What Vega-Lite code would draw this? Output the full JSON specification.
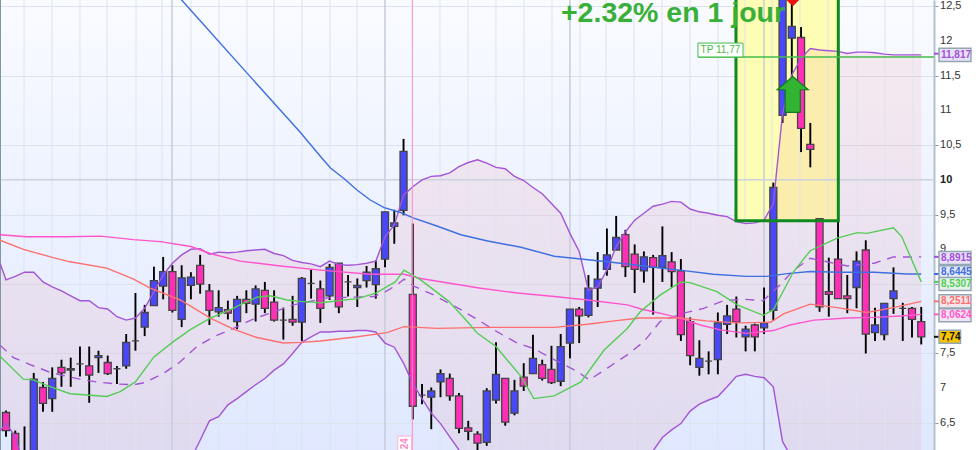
{
"$schema":"https://vega.github.io/schema/vega-lite/v6.json",
"width":934,"height":450,
"autosize":{"type":"none"},
"padding":{"left":0,"top":0,"right":46,"bottom":0},
"background":"#ffffff",
"view":{"stroke":null,"fill":{"gradient":"linear","x1":0,"y1":0,"x2":0,"y2":1,"stops":[{"offset":0,"color":"#f9fbff"},{"offset":1,"color":"#dfe8ff"}]}},
"config":{"font":"Liberation Sans"},
"datasets":{
"rectZone":[{"a":78.96,"b":90.03,"lo":9.41,"hi":13.2}],
"ticks":[{"x":101.03,"v":6.5,"t":"6,5"},{"x":101.03,"v":7,"t":"7"},{"x":101.03,"v":7.5,"t":"7,5"},{"x":101.03,"v":8,"t":"8"},{"x":101.03,"v":8.5,"t":"8,5"},{"x":101.03,"v":9,"t":"9"},{"x":101.03,"v":9.5,"t":"9,5"},{"x":101.03,"v":10.5,"t":"10,5"},{"x":101.03,"v":11,"t":"11"},{"x":101.03,"v":11.5,"t":"11,5"},{"x":101.03,"v":12,"t":"12"},{"x":101.03,"v":12.5,"t":"12,5"}],
"band":[{"i":-0.65,"up":8.80,"lo":6.38},{"i":0,"up":8.56,"lo":6.50},{"i":1,"up":8.61,"lo":6.30},{"i":2,"up":8.67,"lo":5.85},{"i":3,"up":8.67,"lo":5.8},{"i":4,"up":8.53,"lo":5.8},{"i":5,"up":8.46,"lo":5.8},{"i":6,"up":8.40,"lo":5.8},{"i":7,"up":8.33,"lo":5.8},{"i":8,"up":8.26,"lo":5.8},{"i":9,"up":8.26,"lo":5.8},{"i":10,"up":8.16,"lo":5.8},{"i":11,"up":8.14,"lo":5.8},{"i":12,"up":8.03,"lo":5.8},{"i":13,"up":7.98,"lo":5.8},{"i":14,"up":8.01,"lo":5.8},{"i":15,"up":8.15,"lo":5.8},{"i":16,"up":8.39,"lo":5.8},{"i":17,"up":8.63,"lo":5.8},{"i":18,"up":8.80,"lo":5.8},{"i":19,"up":8.92,"lo":5.8},{"i":20,"up":9.00,"lo":5.98},{"i":21,"up":9.01,"lo":6.25},{"i":22,"up":8.93,"lo":6.53},{"i":23,"up":8.96,"lo":6.59},{"i":24,"up":8.95,"lo":6.76},{"i":25,"up":8.96,"lo":6.85},{"i":26,"up":8.98,"lo":6.95},{"i":27,"up":8.99,"lo":7.05},{"i":28,"up":9.00,"lo":7.14},{"i":29,"up":8.94,"lo":7.26},{"i":30,"up":8.91,"lo":7.35},{"i":31,"up":8.84,"lo":7.50},{"i":32,"up":8.81,"lo":7.66},{"i":33,"up":8.79,"lo":7.74},{"i":34,"up":8.75,"lo":7.81},{"i":35,"up":8.83,"lo":7.81},{"i":36,"up":8.78,"lo":7.82},{"i":37,"up":8.77,"lo":7.82},{"i":38,"up":8.78,"lo":7.83},{"i":39,"up":8.80,"lo":7.83},{"i":40,"up":8.83,"lo":7.81},{"i":41,"up":9.18,"lo":7.65},{"i":42,"up":9.35,"lo":7.59},{"i":43,"up":9.78,"lo":7.36},{"i":44,"up":9.90,"lo":7.07},{"i":45,"up":10.0,"lo":6.85},{"i":46,"up":10.05,"lo":6.64},{"i":47,"up":10.06,"lo":6.49},{"i":48,"up":10.10,"lo":6.30},{"i":49,"up":10.19,"lo":6.11},{"i":50,"up":10.25,"lo":5.9},{"i":51,"up":10.29,"lo":5.8},{"i":52,"up":10.24,"lo":5.8},{"i":53,"up":10.18,"lo":5.8},{"i":54,"up":10.16,"lo":5.8},{"i":55,"up":10.05,"lo":5.8},{"i":56,"up":9.99,"lo":5.8},{"i":57,"up":9.89,"lo":5.8},{"i":58,"up":9.80,"lo":5.8},{"i":59,"up":9.66,"lo":5.8},{"i":60,"up":9.52,"lo":5.8},{"i":61,"up":9.23,"lo":5.8},{"i":62,"up":8.97,"lo":5.8},{"i":63,"up":8.41,"lo":5.8},{"i":64,"up":8.46,"lo":5.8},{"i":65,"up":8.70,"lo":5.8},{"i":66,"up":9.04,"lo":5.8},{"i":67,"up":9.25,"lo":5.8},{"i":68,"up":9.42,"lo":5.8},{"i":69,"up":9.52,"lo":5.9},{"i":70,"up":9.62,"lo":6.1},{"i":71,"up":9.65,"lo":6.29},{"i":72,"up":9.69,"lo":6.40},{"i":73,"up":9.68,"lo":6.49},{"i":74,"up":9.58,"lo":6.67},{"i":75,"up":9.54,"lo":6.77},{"i":76,"up":9.52,"lo":6.83},{"i":77,"up":9.49,"lo":6.88},{"i":78,"up":9.47,"lo":7.02},{"i":79,"up":9.40,"lo":7.17},{"i":80,"up":9.37,"lo":7.20},{"i":81,"up":9.38,"lo":7.17},{"i":82,"up":9.42,"lo":7.15},{"i":83,"up":9.66,"lo":7.02},{"i":84,"up":10.96,"lo":6.23},{"i":85,"up":11.51,"lo":6.0},{"i":86,"up":11.75,"lo":5.8},{"i":87,"up":11.89,"lo":5.8},{"i":88,"up":11.87,"lo":5.8},{"i":89,"up":11.86,"lo":5.8},{"i":90,"up":11.85,"lo":5.8},{"i":91,"up":11.82,"lo":5.8},{"i":92,"up":11.84,"lo":5.8},{"i":93,"up":11.84,"lo":5.8},{"i":94,"up":11.83,"lo":5.8},{"i":95,"up":11.81,"lo":5.8},{"i":96,"up":11.80,"lo":5.8},{"i":97,"up":11.80,"lo":5.8},{"i":98,"up":11.80,"lo":5.8},{"i":99,"up":11.80,"lo":5.8}],
"gridMinor":[{"i":1.95},{"i":4.97},{"i":8.0},{"i":10.92},{"i":14.06},{"i":16.87},{"i":20.01},{"i":23.04},{"i":26.07},{"i":28.99},{"i":32.02},{"i":35.05},{"i":37.97},{"i":46.94},{"i":49.97},{"i":53},{"i":56.03},{"i":59.06},{"i":62.09},{"i":64.9},{"i":67.93},{"i":70.96},{"i":73.99},{"i":77.02},{"i":79.93},{"i":82.86},{"i":85.88},{"i":88.91},{"i":92.05},{"i":95.08},{"i":98.11}],
"gridMajor":[{"i":17.95},{"i":40.99},{"i":61.0},{"i":81.99}],
"candles":[
{"i":0,"o":6.65,"h":6.68,"l":6.30,"c":6.39,"d":"down"},
{"i":1,"o":6.35,"h":6.39,"l":5.8,"c":5.9,"d":"down"},
{"i":2,"o":6.0,"h":6.45,"l":5.8,"c":5.9,"d":"down"},
{"i":3,"o":5.9,"h":7.22,"l":5.85,"c":7.13,"d":"up"},
{"i":4,"o":7.01,"h":7.09,"l":6.66,"c":6.78,"d":"down"},
{"i":5,"o":6.85,"h":7.30,"l":6.66,"c":7.14,"d":"up"},
{"i":6,"o":7.30,"h":7.41,"l":7.02,"c":7.22,"d":"down"},
{"i":7,"o":7.28,"h":7.44,"l":7.02,"c":7.26,"d":"down"},
{"i":8,"o":7.35,"h":7.60,"l":7.17,"c":7.35,"d":"doji"},
{"i":9,"o":7.32,"h":7.60,"l":6.79,"c":7.19,"d":"down"},
{"i":10,"o":7.44,"h":7.54,"l":7.22,"c":7.47,"d":"up"},
{"i":11,"o":7.37,"h":7.47,"l":7.19,"c":7.21,"d":"down"},
{"i":12,"o":7.28,"h":7.32,"l":7.06,"c":7.28,"d":"doji"},
{"i":13,"o":7.32,"h":7.78,"l":7.28,"c":7.66,"d":"up"},
{"i":14,"o":7.68,"h":8.37,"l":7.54,"c":7.68,"d":"doji"},
{"i":15,"o":7.88,"h":8.20,"l":7.75,"c":8.09,"d":"up"},
{"i":16,"o":8.19,"h":8.75,"l":8.19,"c":8.55,"d":"up"},
{"i":17,"o":8.47,"h":8.89,"l":8.28,"c":8.68,"d":"up"},
{"i":18,"o":8.68,"h":8.77,"l":8.09,"c":8.12,"d":"down"},
{"i":19,"o":7.99,"h":8.77,"l":7.88,"c":8.59,"d":"up"},
{"i":20,"o":8.48,"h":8.67,"l":8.28,"c":8.60,"d":"up"},
{"i":21,"o":8.77,"h":8.92,"l":8.36,"c":8.50,"d":"down"},
{"i":22,"o":8.40,"h":8.50,"l":7.91,"c":8.12,"d":"down"},
{"i":23,"o":8.10,"h":8.41,"l":8.03,"c":8.16,"d":"up"},
{"i":24,"o":8.13,"h":8.26,"l":7.99,"c":8.08,"d":"down"},
{"i":25,"o":7.96,"h":8.33,"l":7.85,"c":8.28,"d":"up"},
{"i":26,"o":8.28,"h":8.41,"l":8.08,"c":8.22,"d":"down"},
{"i":27,"o":8.21,"h":8.48,"l":7.96,"c":8.43,"d":"up"},
{"i":28,"o":8.41,"h":8.53,"l":8.08,"c":8.15,"d":"down"},
{"i":29,"o":8.24,"h":8.41,"l":7.96,"c":7.98,"d":"down"},
{"i":30,"o":7.98,"h":8.16,"l":7.70,"c":7.98,"d":"doji"},
{"i":31,"o":7.99,"h":8.33,"l":7.90,"c":7.95,"d":"down"},
{"i":32,"o":7.95,"h":8.60,"l":7.68,"c":8.58,"d":"up"},
{"i":33,"o":8.51,"h":8.71,"l":8.29,"c":8.51,"d":"doji"},
{"i":34,"o":8.43,"h":8.55,"l":7.94,"c":8.15,"d":"down"},
{"i":35,"o":8.33,"h":8.79,"l":8.27,"c":8.74,"d":"up"},
{"i":36,"o":8.80,"h":8.80,"l":8.08,"c":8.17,"d":"down"},
{"i":37,"o":8.53,"h":8.63,"l":8.32,"c":8.53,"d":"doji"},
{"i":38,"o":8.45,"h":8.58,"l":8.17,"c":8.48,"d":"up"},
{"i":39,"o":8.55,"h":8.76,"l":8.45,"c":8.67,"d":"up"},
{"i":40,"o":8.49,"h":8.84,"l":8.29,"c":8.72,"d":"up"},
{"i":41,"o":8.86,"h":9.54,"l":8.74,"c":9.54,"d":"up"},
{"i":42,"o":9.33,"h":9.57,"l":9.08,"c":9.38,"d":"up"},
{"i":43,"o":9.56,"h":10.59,"l":9.49,"c":10.41,"d":"up"},
{"i":44,"o":8.35,"h":9.37,"l":6.55,"c":6.74,"d":"down"},
{"i":45,"o":6.90,"h":7.06,"l":6.77,"c":6.90,"d":"doji"},
{"i":46,"o":6.87,"h":7.01,"l":6.41,"c":6.96,"d":"up"},
{"i":47,"o":7.09,"h":7.27,"l":6.87,"c":7.21,"d":"up"},
{"i":48,"o":7.14,"h":7.21,"l":6.82,"c":6.89,"d":"down"},
{"i":49,"o":6.89,"h":6.93,"l":6.35,"c":6.42,"d":"down"},
{"i":50,"o":6.43,"h":6.53,"l":6.25,"c":6.38,"d":"down"},
{"i":51,"o":6.34,"h":6.38,"l":6.11,"c":6.21,"d":"down"},
{"i":52,"o":6.22,"h":7.00,"l":6.17,"c":6.96,"d":"up"},
{"i":53,"o":6.83,"h":7.66,"l":6.78,"c":7.20,"d":"up"},
{"i":54,"o":7.14,"h":7.14,"l":6.46,"c":6.51,"d":"down"},
{"i":55,"o":6.64,"h":7.12,"l":6.61,"c":6.96,"d":"up"},
{"i":56,"o":7.16,"h":7.36,"l":6.96,"c":7.03,"d":"down"},
{"i":57,"o":7.21,"h":7.77,"l":7.21,"c":7.43,"d":"up"},
{"i":58,"o":7.34,"h":7.41,"l":7.11,"c":7.14,"d":"down"},
{"i":59,"o":7.27,"h":7.61,"l":7.06,"c":7.08,"d":"down"},
{"i":60,"o":7.10,"h":7.78,"l":7.03,"c":7.60,"d":"up"},
{"i":61,"o":7.65,"h":8.14,"l":7.43,"c":8.14,"d":"up"},
{"i":62,"o":8.14,"h":8.17,"l":7.65,"c":8.04,"d":"down"},
{"i":63,"o":8.05,"h":8.63,"l":8.02,"c":8.44,"d":"up"},
{"i":64,"o":8.44,"h":8.96,"l":8.17,"c":8.57,"d":"up"},
{"i":65,"o":8.71,"h":9.30,"l":8.62,"c":8.92,"d":"up"},
{"i":66,"o":8.99,"h":9.48,"l":8.99,"c":9.17,"d":"up"},
{"i":67,"o":9.21,"h":9.28,"l":8.60,"c":8.75,"d":"down"},
{"i":68,"o":8.93,"h":9.07,"l":8.37,"c":8.71,"d":"down"},
{"i":69,"o":8.69,"h":8.97,"l":8.52,"c":8.89,"d":"up"},
{"i":70,"o":8.88,"h":8.92,"l":8.06,"c":8.74,"d":"down"},
{"i":71,"o":8.74,"h":9.33,"l":8.53,"c":8.91,"d":"up"},
{"i":72,"o":8.82,"h":8.96,"l":8.45,"c":8.68,"d":"down"},
{"i":73,"o":8.69,"h":8.86,"l":7.68,"c":7.77,"d":"down"},
{"i":74,"o":7.96,"h":8.02,"l":7.33,"c":7.47,"d":"down"},
{"i":75,"o":7.30,"h":7.69,"l":7.18,"c":7.43,"d":"up"},
{"i":76,"o":7.39,"h":7.53,"l":7.20,"c":7.39,"d":"doji"},
{"i":77,"o":7.41,"h":8.09,"l":7.20,"c":7.94,"d":"up"},
{"i":78,"o":7.92,"h":8.20,"l":7.78,"c":8.04,"d":"up"},
{"i":79,"o":8.14,"h":8.32,"l":7.73,"c":7.95,"d":"down"},
{"i":80,"o":7.74,"h":7.90,"l":7.53,"c":7.85,"d":"up"},
{"i":81,"o":7.91,"h":7.93,"l":7.53,"c":7.74,"d":"down"},
{"i":82,"o":7.87,"h":8.45,"l":7.78,"c":7.94,"d":"up"},
{"i":83,"o":8.12,"h":9.96,"l":7.97,"c":9.89,"d":"up"},
{"i":84,"o":10.93,"h":12.8,"l":10.82,"c":12.7,"d":"up"},
{"i":85,"o":12.04,"h":12.7,"l":11.37,"c":12.21,"d":"up"},
{"i":86,"o":12.05,"h":12.20,"l":10.40,"c":10.74,"d":"down"},
{"i":87,"o":10.51,"h":10.82,"l":10.18,"c":10.44,"d":"down"},
{"i":88,"o":9.44,"h":9.44,"l":8.10,"c":8.17,"d":"down"},
{"i":89,"o":8.39,"h":8.88,"l":8.03,"c":8.35,"d":"down"},
{"i":90,"o":8.86,"h":9.41,"l":8.29,"c":8.29,"d":"down"},
{"i":91,"o":8.33,"h":8.63,"l":8.08,"c":8.29,"d":"down"},
{"i":92,"o":8.45,"h":8.97,"l":8.15,"c":8.83,"d":"up"},
{"i":93,"o":8.99,"h":9.13,"l":7.50,"c":7.78,"d":"down"},
{"i":94,"o":7.80,"h":8.16,"l":7.68,"c":7.91,"d":"up"},
{"i":95,"o":7.77,"h":8.22,"l":7.69,"c":8.22,"d":"up"},
{"i":96,"o":8.29,"h":8.74,"l":8.07,"c":8.40,"d":"up"},
{"i":97,"o":8.15,"h":8.23,"l":7.68,"c":8.15,"d":"doji"},
{"i":98,"o":8.15,"h":8.17,"l":7.73,"c":7.99,"d":"down"},
{"i":99,"o":7.96,"h":8.17,"l":7.63,"c":7.74,"d":"down"}
],
"mid":[{"i":-0.65,"v":7.62},{"i":0.8,"v":7.44},{"i":2.8,"v":7.33},{"i":4.95,"v":7.22},{"i":8,"v":7.13},{"i":9.8,"v":7.09},{"i":12,"v":7.06},{"i":13.8,"v":7.05},{"i":15,"v":7.08},{"i":17,"v":7.21},{"i":18.85,"v":7.38},{"i":20.65,"v":7.60},{"i":22.45,"v":7.74},{"i":24.6,"v":7.86},{"i":26.8,"v":8.0},{"i":29,"v":8.10},{"i":31.1,"v":8.20},{"i":34,"v":8.28},{"i":34.74,"v":8.30},{"i":39.8,"v":8.32},{"i":41.06,"v":8.39},{"i":42.3,"v":8.49},{"i":43.05,"v":8.57},{"i":44.1,"v":8.47},{"i":46.3,"v":8.34},{"i":49.2,"v":8.13},{"i":51.35,"v":7.96},{"i":53.15,"v":7.81},{"i":55.3,"v":7.65},{"i":57.1,"v":7.57},{"i":59.3,"v":7.41},{"i":61.8,"v":7.24},{"i":63.1,"v":7.12},{"i":65.05,"v":7.29},{"i":67.2,"v":7.48},{"i":69.0,"v":7.67},{"i":70.75,"v":7.96},{"i":73.3,"v":8.08},{"i":75.45,"v":8.15},{"i":77.6,"v":8.26},{"i":79.8,"v":8.28},{"i":81.9,"v":8.26},{"i":83.75,"v":8.49},{"i":85.2,"v":8.70},{"i":87,"v":8.87},{"i":88.8,"v":8.82},{"i":91,"v":8.76},{"i":93.9,"v":8.80},{"i":96,"v":8.89},{"i":97.8,"v":8.89},{"i":99,"v":8.8915}],
"lines":[
{"s":"blue","i":18.3,"v":12.70},{"s":"blue","i":19,"v":12.59},{"s":"blue","i":20.98,"v":12.295},{"s":"blue","i":26.39,"v":11.49},{"s":"blue","i":31.8,"v":10.69},{"s":"blue","i":34,"v":10.34},{"s":"blue","i":35.1,"v":10.17},{"s":"blue","i":36.55,"v":10.02},{"s":"blue","i":38,"v":9.85},{"s":"blue","i":39.4,"v":9.71},{"s":"blue","i":40.9,"v":9.60},{"s":"blue","i":42.7,"v":9.53},{"s":"blue","i":44.1,"v":9.45},{"s":"blue","i":46.3,"v":9.35},{"s":"blue","i":49.2,"v":9.21},{"s":"blue","i":52.1,"v":9.12},{"s":"blue","i":55.7,"v":9.03},{"s":"blue","i":59.3,"v":8.90},{"s":"blue","i":62.2,"v":8.86},{"s":"blue","i":65.05,"v":8.82},{"s":"blue","i":68.3,"v":8.77},{"s":"blue","i":70.75,"v":8.73},{"s":"blue","i":72.9,"v":8.70},{"s":"blue","i":76.5,"v":8.64},{"s":"blue","i":80.1,"v":8.61},{"s":"blue","i":82.3,"v":8.61},{"s":"blue","i":84.5,"v":8.65},{"s":"blue","i":87,"v":8.68},{"s":"blue","i":90.25,"v":8.67},{"s":"blue","i":93.9,"v":8.67},{"s":"blue","i":97.5,"v":8.645},{"s":"blue","i":99,"v":8.6445},
{"s":"pink","i":-0.65,"v":9.21},{"s":"pink","i":2.2,"v":9.18},{"s":"pink","i":6.57,"v":9.18},{"s":"pink","i":10.2,"v":9.19},{"s":"pink","i":13.8,"v":9.14},{"s":"pink","i":16.7,"v":9.11},{"s":"pink","i":20,"v":9.04},{"s":"pink","i":22.1,"v":8.94},{"s":"pink","i":25.3,"v":8.83},{"s":"pink","i":29.7,"v":8.76},{"s":"pink","i":34,"v":8.70},{"s":"pink","i":39.4,"v":8.64},{"s":"pink","i":43.05,"v":8.64},{"s":"pink","i":44.85,"v":8.58},{"s":"pink","i":48.5,"v":8.50},{"s":"pink","i":51.35,"v":8.44},{"s":"pink","i":55.3,"v":8.37},{"s":"pink","i":59.3,"v":8.32},{"s":"pink","i":62.9,"v":8.27},{"s":"pink","i":67.2,"v":8.20},{"s":"pink","i":68.7,"v":8.14},{"s":"pink","i":70.75,"v":8.08},{"s":"pink","i":72.9,"v":8.01},{"s":"pink","i":75.1,"v":7.91},{"s":"pink","i":77.25,"v":7.84},{"s":"pink","i":80.1,"v":7.79},{"s":"pink","i":83,"v":7.83},{"s":"pink","i":84.8,"v":7.91},{"s":"pink","i":87.4,"v":7.98},{"s":"pink","i":91,"v":8.01},{"s":"pink","i":93.9,"v":8.02},{"s":"pink","i":96.75,"v":8.04},{"s":"pink","i":99,"v":8.0624},
{"s":"red","i":-0.65,"v":9.13},{"s":"red","i":1.88,"v":9.0},{"s":"red","i":5.1,"v":8.88},{"s":"red","i":6.93,"v":8.82},{"s":"red","i":10.9,"v":8.73},{"s":"red","i":13.8,"v":8.57},{"s":"red","i":15.6,"v":8.44},{"s":"red","i":18.85,"v":8.27},{"s":"red","i":22.1,"v":8.01},{"s":"red","i":24.6,"v":7.85},{"s":"red","i":27.15,"v":7.73},{"s":"red","i":30,"v":7.65},{"s":"red","i":31.85,"v":7.66},{"s":"red","i":34,"v":7.68},{"s":"red","i":38,"v":7.74},{"s":"red","i":41.2,"v":7.80},{"s":"red","i":43.05,"v":7.886},{"s":"red","i":46.65,"v":7.862},{"s":"red","i":52.1,"v":7.876},{"s":"red","i":59.3,"v":7.876},{"s":"red","i":62.9,"v":7.92},{"s":"red","i":65.8,"v":7.97},{"s":"red","i":68.6,"v":8.01},{"s":"red","i":72.9,"v":8.01},{"s":"red","i":75.8,"v":7.97},{"s":"red","i":79.1,"v":7.94},{"s":"red","i":82.7,"v":7.95},{"s":"red","i":84.1,"v":8.07},{"s":"red","i":87,"v":8.21},{"s":"red","i":89.9,"v":8.16},{"s":"red","i":93.1,"v":8.09},{"s":"red","i":96,"v":8.16},{"s":"red","i":99,"v":8.2511},
{"s":"green","i":-0.65,"v":7.46},{"s":"green","i":1.88,"v":7.13},{"s":"green","i":2.96,"v":7.12},{"s":"green","i":4.4,"v":7.04},{"s":"green","i":6.93,"v":6.92},{"s":"green","i":10.9,"v":6.88},{"s":"green","i":12.35,"v":6.95},{"s":"green","i":14,"v":7.09},{"s":"green","i":16,"v":7.45},{"s":"green","i":18.1,"v":7.67},{"s":"green","i":19.9,"v":7.84},{"s":"green","i":22.1,"v":8.01},{"s":"green","i":24.3,"v":8.13},{"s":"green","i":25.3,"v":8.20},{"s":"green","i":27.15,"v":8.31},{"s":"green","i":28.6,"v":8.33},{"s":"green","i":30.4,"v":8.27},{"s":"green","i":31.8,"v":8.25},{"s":"green","i":34,"v":8.23},{"s":"green","i":38,"v":8.29},{"s":"green","i":40,"v":8.37},{"s":"green","i":42.1,"v":8.53},{"s":"green","i":43.05,"v":8.70},{"s":"green","i":44.85,"v":8.56},{"s":"green","i":47.9,"v":8.25},{"s":"green","i":49.9,"v":7.96},{"s":"green","i":51,"v":7.79},{"s":"green","i":53,"v":7.60},{"s":"green","i":55.7,"v":7.17},{"s":"green","i":57.1,"v":6.85},{"s":"green","i":59.3,"v":6.89},{"s":"green","i":62.2,"v":7.09},{"s":"green","i":64.7,"v":7.55},{"s":"green","i":67.2,"v":7.86},{"s":"green","i":68.6,"v":8.10},{"s":"green","i":70.75,"v":8.34},{"s":"green","i":73,"v":8.53},{"s":"green","i":74,"v":8.52},{"s":"green","i":76.9,"v":8.39},{"s":"green","i":79.1,"v":8.20},{"s":"green","i":81.9,"v":8.05},{"s":"green","i":83,"v":8.13},{"s":"green","i":85.2,"v":8.68},{"s":"green","i":87,"v":8.98},{"s":"green","i":89.9,"v":9.16},{"s":"green","i":92.1,"v":9.24},{"s":"green","i":93.1,"v":9.23},{"s":"green","i":96,"v":9.31},{"s":"green","i":96.9,"v":9.18},{"s":"green","i":99,"v":8.5307}
],
"labels":[
{"s":"bb","v":11.817,"p":11.80,"p1":11.706,"p2":11.894,"t":"11,817","z":100.38,"a":100.92,"b":104.38},
{"s":"bb","v":8.8915,"p":8.875,"p1":8.781,"p2":8.969,"t":"8,8915","z":100.38,"a":100.92,"b":104.38},
{"s":"blue","v":8.6445,"p":8.67,"p1":8.576,"p2":8.764,"t":"8,6445","z":100.38,"a":100.92,"b":104.38},
{"s":"green","v":8.5307,"p":8.50,"p1":8.406,"p2":8.594,"t":"8,5307","z":100.38,"a":100.92,"b":104.38},
{"s":"red","v":8.2511,"p":8.25,"p1":8.156,"p2":8.344,"t":"8,2511","z":100.38,"a":100.92,"b":104.38},
{"s":"pink","v":8.0624,"p":8.05,"p1":7.956,"p2":8.144,"t":"8,0624","z":100.38,"a":100.92,"b":104.38},
{"s":"gold","v":7.74,"p":7.74,"p1":7.646,"p2":7.834,"t":"7,74","z":100.38,"a":100.92,"b":103.25}
]
},
"layer":[
{"data":{"name":"rectZone"},"mark":{"type":"rect","color":"#fdfdb4","clip":true},
 "encoding":{"x":{"field":"a","type":"quantitative","scale":{"domain":[-0.65,100.38],"nice":false,"zero":false,"padding":0},"axis":null},"x2":{"field":"b"},
 "y":{"field":"lo","type":"quantitative","scale":{"domain":[6.11,12.59],"nice":false,"zero":false},
  "axis":{"orient":"right","title":null,"values":[6.5,7,7.5,8,8.5,9,9.5,10,10.5,11,11.5,12,12.5],"grid":true,"gridColor":"#dde2ef","gridWidth":1,"tickSize":4,"tickColor":"#8a9aa8","domain":true,"domainColor":"#b3c1ce","domainWidth":2,"labels":false}},
 "y2":{"field":"hi"}}},
{"data":{"name":"band"},"mark":{"type":"area","color":"#f07a80","opacity":0.12,"clip":true},
 "encoding":{"x":{"field":"i","type":"quantitative"},"y":{"field":"lo","type":"quantitative"},"y2":{"field":"up"}}},
{"data":{"name":"gridMinor"},"mark":{"type":"rule","color":"#dfe3ef","strokeWidth":1},"encoding":{"x":{"field":"i","type":"quantitative"}}},
{"data":{"name":"gridMajor"},"mark":{"type":"rule","color":"#c6ccdd","strokeWidth":1.5},"encoding":{"x":{"field":"i","type":"quantitative"}}},
{"data":{"values":[{"v":10}]},"mark":{"type":"rule","color":"#ccd2e0","strokeWidth":1.5},"encoding":{"y":{"field":"v","type":"quantitative"}}},
{"data":{"values":[{"i":-0.65}]},"mark":{"type":"rule","color":"#7f97a3","strokeWidth":2},"encoding":{"x":{"field":"i","type":"quantitative"}}},
{"data":{"name":"candles"},"mark":{"type":"rule","color":"#000000","strokeWidth":1.9,"clip":true},
 "encoding":{"x":{"field":"i","type":"quantitative"},"y":{"field":"h","type":"quantitative"},"y2":{"field":"l"}}},
{"data":{"name":"candles"},"mark":{"type":"bar","size":7,"strokeWidth":1.3,"stroke":"#444444","clip":true},
 "encoding":{"x":{"field":"i","type":"quantitative"},"y":{"field":"o","type":"quantitative"},"y2":{"field":"c"},
 "fill":{"field":"d","type":"nominal","legend":null,"scale":{"domain":["up","down","doji","bb","blue","green","red","pink","gold"],"range":["#4848f8","#ff2fb8","#000000","#e8e2f6","#e4e9f6","#e4f2e8","#f3e6ea","#f3e4f2","#f5c400"]}}}},
{"data":{"name":"band"},"mark":{"type":"line","color":"#a455d6","strokeWidth":1.4,"clip":true},
 "encoding":{"x":{"field":"i","type":"quantitative"},"y":{"field":"up","type":"quantitative"}}},
{"data":{"name":"band"},"mark":{"type":"line","color":"#a455d6","strokeWidth":1.4,"clip":true},
 "encoding":{"x":{"field":"i","type":"quantitative"},"y":{"field":"lo","type":"quantitative"}}},
{"data":{"name":"mid"},"mark":{"type":"line","color":"#a455d6","strokeWidth":1.4,"strokeDash":[9,7],"clip":true},
 "encoding":{"x":{"field":"i","type":"quantitative"},"y":{"field":"v","type":"quantitative"}}},
{"data":{"name":"lines"},"mark":{"type":"line","strokeWidth":1.4,"clip":true},
 "encoding":{"x":{"field":"i","type":"quantitative"},"y":{"field":"v","type":"quantitative"},
 "color":{"field":"s","type":"nominal","legend":null,"scale":{"domain":["bb","blue","green","red","pink","gold"],"range":["#a050d8","#3f6fe0","#55cc55","#ff6f6f","#ff55cc","#111111"]}}}},
{"data":{"name":"rectZone"},"mark":{"type":"rect","fillOpacity":0,"stroke":"#0f8a1e","strokeWidth":3,"clip":true},
 "encoding":{"x":{"field":"a","type":"quantitative"},"x2":{"field":"b"},"y":{"field":"lo","type":"quantitative"},"y2":{"field":"hi"}}},
{"data":{"values":[{"i":43.95}]},"mark":{"type":"rule","color":"#ff88c4","strokeWidth":1},"encoding":{"x":{"field":"i","type":"quantitative"}}},
{"data":{"values":[{"a":42.37,"b":43.88,"lo":6.0,"hi":6.31}]},"mark":{"type":"rect","fill":"#ffffff","stroke":"#ffb0d8","strokeWidth":1,"clip":true},
 "encoding":{"x":{"field":"a","type":"quantitative"},"x2":{"field":"b"},"y":{"field":"lo","type":"quantitative"},"y2":{"field":"hi"}}},
{"data":{"values":[{"i":43.12,"v":6.2,"t":"24"}]},"mark":{"type":"text","angle":270,"fontSize":10,"fontWeight":"bold","color":"#ff88c4","font":"Liberation Sans"},
 "encoding":{"x":{"field":"i","type":"quantitative"},"y":{"field":"v","type":"quantitative"},"text":{"field":"t","type":"nominal"}}},
{"data":{"values":[{"a":74.85,"b":100.38,"v":11.77}]},"mark":{"type":"rule","color":"#45bb4b","strokeWidth":1.5},
 "encoding":{"x":{"field":"a","type":"quantitative"},"x2":{"field":"b"},"y":{"field":"v","type":"quantitative"}}},
{"data":{"values":[{"a":74.85,"b":79.72,"lo":11.77,"hi":11.97}]},"mark":{"type":"rect","fill":"#ffffff","stroke":"#45bb4b","strokeWidth":1},
 "encoding":{"x":{"field":"a","type":"quantitative"},"x2":{"field":"b"},"y":{"field":"lo","type":"quantitative"},"y2":{"field":"hi"}}},
{"data":{"values":[{"i":77.28,"v":11.87,"t":"TP 11,77"}]},"mark":{"type":"text","fontSize":10,"color":"#45bb4b","font":"Liberation Sans"},
 "encoding":{"x":{"field":"i","type":"quantitative"},"y":{"field":"v","type":"quantitative"},"text":{"field":"t","type":"nominal"}}},
{"data":{"values":[{"i":85.1,"v":11.23}]},"mark":{"type":"point","filled":true,"opacity":1,"size":1296,"fill":"#32b332","stroke":"#0e7a1e","strokeWidth":1.2,"shape":"M0,-1L0.86,-0.26L0.42,-0.26L0.42,1L-0.42,1L-0.42,-0.26L-0.86,-0.26Z"},
 "encoding":{"x":{"field":"i","type":"quantitative"},"y":{"field":"v","type":"quantitative"}}},
{"data":{"values":[{"i":85.1,"v":12.676}]},"mark":{"type":"point","filled":true,"opacity":1,"size":576,"shape":"diamond","fill":"#ee1111","stroke":"#aa1111","strokeWidth":0.5},
 "encoding":{"x":{"field":"i","type":"quantitative"},"y":{"field":"v","type":"quantitative"}}},
{"data":{"values":[{"i":60.03,"v":12.27,"t":"+2.32% en 1 jour"}]},"mark":{"type":"text","align":"left","baseline":"alphabetic","fontSize":28.5,"fontWeight":"bold","color":"#38b038","font":"Liberation Sans"},
 "encoding":{"x":{"field":"i","type":"quantitative"},"y":{"field":"v","type":"quantitative"},"text":{"field":"t","type":"nominal"}}},
{"data":{"name":"ticks"},"mark":{"type":"text","align":"left","fontSize":11,"color":"#333333","font":"Liberation Sans"},
 "encoding":{"x":{"field":"x","type":"quantitative"},"y":{"field":"v","type":"quantitative"},"text":{"field":"t","type":"nominal"}}},
{"data":{"values":[{"x":101.03,"v":10,"t":"10"}]},"mark":{"type":"text","align":"left","fontSize":11,"fontWeight":"bold","color":"#222222","font":"Liberation Sans"},
 "encoding":{"x":{"field":"x","type":"quantitative"},"y":{"field":"v","type":"quantitative"},"text":{"field":"t","type":"nominal"}}},
{"data":{"name":"labels"},"mark":{"type":"rule","strokeWidth":2},
 "encoding":{"x":{"field":"z","type":"quantitative"},"x2":{"field":"a"},"y":{"field":"v","type":"quantitative"},
 "color":{"field":"s","type":"nominal","legend":null,"scale":{"domain":["bb","blue","green","red","pink","gold"],"range":["#a050d8","#3f6fe0","#55cc55","#ff6f6f","#ff55cc","#777777"]}}}},
{"data":{"name":"labels"},"mark":{"type":"rect","stroke":"#93a6b3","strokeWidth":1.5},
 "encoding":{"x":{"field":"a","type":"quantitative"},"x2":{"field":"b"},"y":{"field":"p1","type":"quantitative"},"y2":{"field":"p2"},
 "fill":{"field":"s","type":"nominal","legend":null,"scale":{"domain":["up","down","doji","bb","blue","green","red","pink","gold"],"range":["#4848f8","#ff2fb8","#000000","#e8e2f6","#e4e9f6","#e4f2e8","#f3e6ea","#f3e4f2","#f5c400"]}}}},
{"data":{"name":"labels"},"mark":{"type":"text","align":"left","dx":2,"fontSize":10,"fontWeight":"bold","font":"Liberation Sans"},
 "encoding":{"x":{"field":"a","type":"quantitative"},"y":{"field":"p","type":"quantitative"},"text":{"field":"t","type":"nominal"},
 "color":{"field":"s","type":"nominal","legend":null,"scale":{"domain":["bb","blue","green","red","pink","gold"],"range":["#a050d8","#3f6fe0","#55cc55","#ff6f6f","#ff55cc","#111111"]}}}}
]
}
